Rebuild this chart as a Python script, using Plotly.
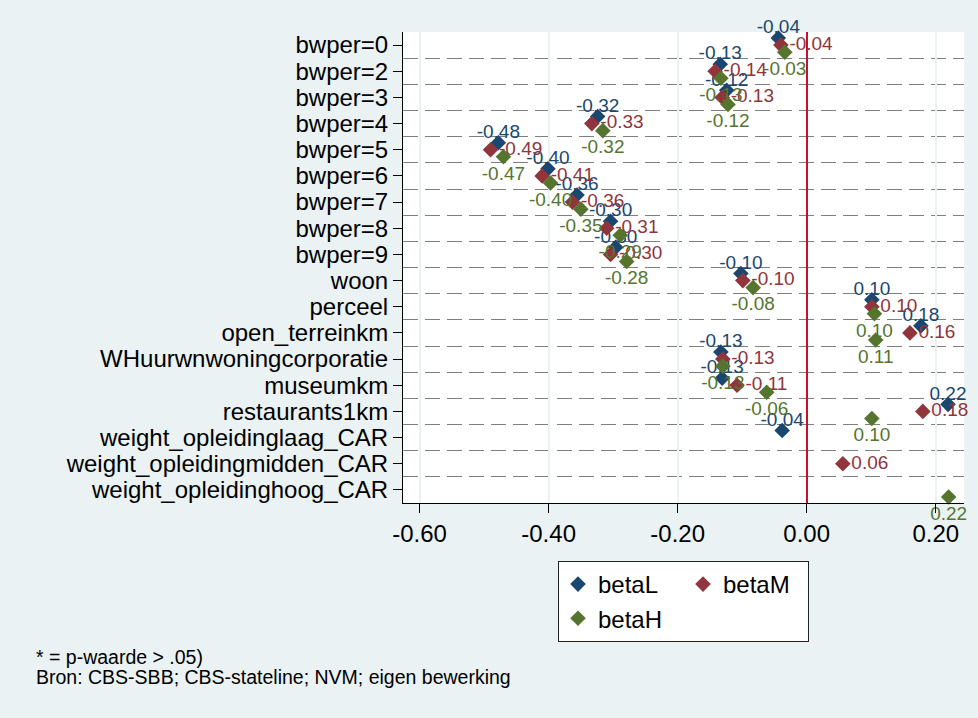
import plotly.graph_objects as go

categories = ["bwper=0", "bwper=2", "bwper=3", "bwper=4", "bwper=5", "bwper=6",
              "bwper=7", "bwper=8", "bwper=9", "woon", "perceel", "open_terreinkm",
              "WHuurwnwoningcorporatie", "museumkm", "restaurants1km",
              "weight_opleidinglaag_CAR", "weight_opleidingmidden_CAR",
              "weight_opleidinghoog_CAR"]

betaL = [-0.044, -0.134, -0.124, -0.324, -0.478, -0.401, -0.356, -0.304, -0.296,
         -0.102, 0.101, 0.177, -0.133, -0.131, 0.219, -0.038, None, None]
betaM = [-0.040, -0.142, -0.131, -0.333, -0.490, -0.410, -0.363, -0.310, -0.304,
         -0.099, 0.101, 0.160, -0.130, -0.108, 0.180, None, 0.056, None]
betaH = [-0.034, -0.133, -0.122, -0.316, -0.470, -0.397, -0.350, -0.289, -0.279,
         -0.083, 0.105, 0.107, -0.130, -0.062, 0.101, None, None, 0.220]

xtick_vals = [-0.6, -0.4, -0.2, 0.0, 0.2]
xtick_text = ["-0.60", "-0.40", "-0.20", "0.00", "0.20"]

footnote = ["* = p-waarde > .05)", "Bron: CBS-SBB; CBS-stateline; NVM; eigen bewerking"]

# name, values, colour, marker offset (rows), label position, legend group
series = [
    ("betaL", betaL, "#1A476F", -0.27, "top center", "g1"),
    ("betaM", betaM, "#90353B", 0.0, "middle right", "g2"),
    ("betaH", betaH, "#55752F", 0.27, "bottom center", "g1"),
]

FONT = "Liberation Sans, Arial, sans-serif"
W, H = 978, 718
ML, MR, MT, MB = 403, 14, 32, 215
PW = W - ML - MR
PH = H - MT - MB

fig = go.Figure()
for name, vals, col, off, tpos, grp in series:
    xs, ys, txt = [], [], []
    for i, v in enumerate(vals):
        if v is None:
            continue
        xs.append(v)
        ys.append(i + off)
        txt.append(f"{v:.2f}")
    attach = tpos != "top center"
    fig.add_trace(go.Scatter(
        x=xs, y=ys, mode="markers+text" if attach else "markers", name=name,
        legendgroup=grp, text=txt if attach else None,
        textposition=tpos,
        textfont=dict(family=FONT, size=19, color=col),
        marker=dict(symbol="diamond", size=12, color=col),
        cliponaxis=False, hoverinfo="x+name",
    ))
    if not attach:
        fig.add_trace(go.Scatter(
            x=xs, y=ys, mode="text", text=txt, textposition=tpos,
            showlegend=False, legendgroup=grp,
            textfont=dict(family=FONT, size=19, color=col),
            cliponaxis=False, hoverinfo="skip",
        ))

n = len(categories)
fig.update_layout(
    width=W, height=H, autosize=False,
    margin=dict(l=ML, r=MR, t=MT, b=MB, pad=0),
    paper_bgcolor="#EAF2F3", plot_bgcolor="#FFFFFF",
    font=dict(family=FONT, size=24, color="black"),
    showlegend=True,
    legend=dict(
        orientation="h", traceorder="grouped", x=0.5, xanchor="center",
        y=-(561 - (MT + PH)) / PH,
        yanchor="top", bordercolor="#222222", borderwidth=1, bgcolor="#FFFFFF",
        font=dict(family=FONT, size=24, color="black"), entrywidth=80,
        tracegroupgap=0,
    ),
    xaxis=dict(
        range=[-0.6257, 0.2438], tickvals=xtick_vals, ticktext=xtick_text,
        showgrid=True, gridcolor="#EAF2F3", gridwidth=2,
        zeroline=True, zerolinecolor="#C8102E", zerolinewidth=2,
        showline=True, linecolor="black", linewidth=1,
        ticks="outside", ticklen=9, tickcolor="black",
        tickfont=dict(family=FONT, size=24, color="black"),
    ),
    yaxis=dict(
        range=[n - 0.5, -0.5], tickvals=list(range(n)), ticktext=categories,
        showgrid=False, zeroline=False,
        showline=True, linecolor="black", linewidth=1,
        ticks="outside", ticklen=9, tickcolor="black",
        tickfont=dict(family=FONT, size=24, color="black"),
        minor=dict(tickvals=[i + 0.5 for i in range(n - 1)], showgrid=True,
                   gridcolor="#7F7F7F", gridwidth=1.3, griddash="15px,7px",
                   ticks=""),
    ),
)

for k, line in enumerate(footnote):
    fig.add_annotation(
        text=line, xref="paper", yref="paper",
        x=(34 - ML) / PW, y=-((657 + 20 * k) - (MT + PH)) / PH,
        xanchor="left", yanchor="middle", showarrow=False,
        font=dict(family=FONT, size=19.5, color="black"),
    )

fig.write_html("out.html")
